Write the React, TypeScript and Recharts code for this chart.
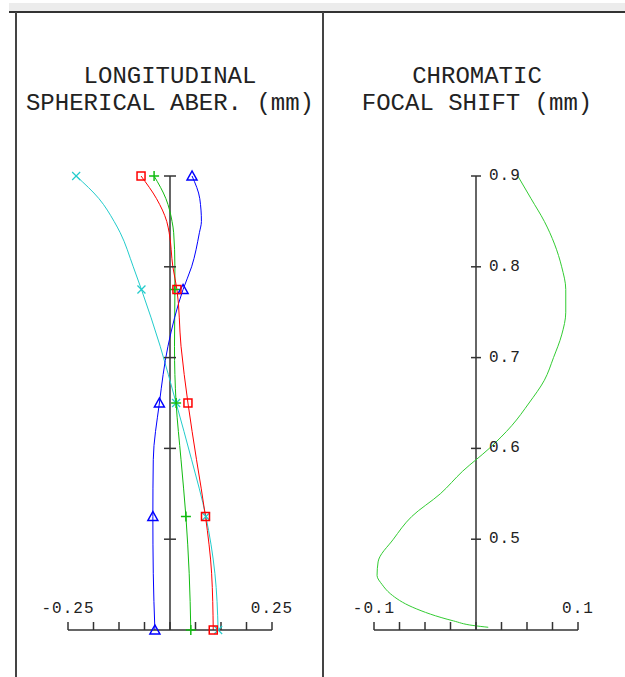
import React from 'react';
import { LineChart, Line, XAxis, YAxis, ReferenceLine, ReferenceDot } from 'recharts';

// longitudinal spherical aberration, per relative pupil height
const pupil = [0, 0.125, 0.25, 0.375, 0.5, 0.625, 0.75, 0.8, 0.875, 0.9, 0.95, 1];
const redAber = [0.106, 0.102, 0.087, 0.065, 0.044, 0.027, 0.017, 0.007, -0.002, -0.008, -0.033, -0.071];
const greenAber = [0.051, 0.047, 0.039, 0.027, 0.015, 0.011, 0.012, 0.012, 0.009, 0.005, -0.010, -0.039];
const blueAber = [-0.037, -0.041, -0.042, -0.041, -0.026, -0.005, 0.032, 0.053, 0.072, 0.077, 0.073, 0.054];
const cyanAber = [0.118, 0.110, 0.088, 0.053, 0.015, -0.024, -0.070, -0.090, -0.122, -0.137, -0.174, -0.230];
const markerPupils = [0, 0.25, 0.5, 0.75, 1];
const pupilTicks = [0.2, 0.4, 0.6, 0.8, 1];
const aberTicks = [-0.25, -0.1875, -0.125, -0.0625, 0, 0.0625, 0.125, 0.1875, 0.25];
const aberLabels = ['-0.25', '0.25'];

// chromatic focal shift, per wavelength (um)
const wavelength = [0.403, 0.405, 0.41, 0.425, 0.44, 0.45, 0.46, 0.475, 0.5, 0.525, 0.55, 0.575, 0.6, 0.625, 0.65, 0.675, 0.7, 0.725, 0.75, 0.775, 0.8, 0.825, 0.85, 0.875, 0.9];
const focalShift = [0.012, -0.003, -0.022, -0.062, -0.084, -0.092, -0.097, -0.096, -0.081, -0.063, -0.035, -0.013, 0.013, 0.035, 0.052, 0.067, 0.076, 0.084, 0.088, 0.088, 0.084, 0.077, 0.067, 0.054, 0.041];
const wlTicks = [0.5, 0.6, 0.7, 0.8, 0.9];
const shiftTicks = [-0.1, -0.075, -0.05, -0.025, 0, 0.025, 0.05, 0.075, 0.1];
const shiftLabels = ['-0.1', '0.1'];

const aberData = pupil.map((p, i) => ({
  pupil: p,
  red: redAber[i],
  green: greenAber[i],
  blue: blueAber[i],
  cyan: cyanAber[i]
}));
const chromData = wavelength.map((w, i) => ({ wl: w, shift: focalShift[i] }));

const AX = '#333';
const FONT = '"Liberation Mono", "DejaVu Sans Mono", monospace';

const marker = (kind: string, color: string) => (props: any) => {
  const { cx, cy, payload, index } = props;
  if (!markerPupils.includes(payload.pupil) || cx == null) return <g key={index} />;
  if (kind === 'square')
    return <rect key={index} x={cx - 4} y={cy - 4} width={8} height={8} fill="none" stroke={color} strokeWidth={1.5} />;
  if (kind === 'plus')
    return (
      <g key={index} stroke={color} strokeWidth={1.5}>
        <line x1={cx - 5} y1={cy} x2={cx + 5} y2={cy} />
        <line x1={cx} y1={cy - 5} x2={cx} y2={cy + 5} />
      </g>
    );
  if (kind === 'tri')
    return <polygon key={index} points={`${cx},${cy - 5} ${cx - 5},${cy + 4} ${cx + 5},${cy + 4}`} fill="none" stroke={color} strokeWidth={1.5} />;
  return (
    <g key={index} stroke={color} strokeWidth={1.2}>
      <line x1={cx - 4} y1={cy - 4} x2={cx + 4} y2={cy + 4} />
      <line x1={cx - 4} y1={cy + 4} x2={cx + 4} y2={cy - 4} />
    </g>
  );
};

const endLabel = (labels: string[]) => (props: any) => {
  const { x, y, payload } = props;
  const txt = labels.find((l) => parseFloat(l) === payload.value);
  if (!txt) return <g />;
  return (
    <text x={x} y={y} textAnchor="middle" fontFamily={FONT} fontSize={16} letterSpacing={1} fill="#222">
      {txt}
    </text>
  );
};

const Title = ({ left, lines }: { left: number; lines: string[] }) => (
  <div style={{ position: 'absolute', left: left - 160, top: 63, width: 320, textAlign: 'center', fontFamily: FONT, fontSize: 24, lineHeight: '27px', color: '#222' }}>
    {lines.map((l) => (
      <div key={l}>{l}</div>
    ))}
  </div>
);

const App = () => {
  return (
    <div style={{ position: 'absolute', left: 0, top: 0, width: 625, height: 677, background: '#fff', overflow: 'hidden' }}>
      <div style={{ position: 'absolute', left: 9, top: 3, width: 616, height: 8, background: '#ececec' }} />
      <div style={{ position: 'absolute', left: 9, top: 11, width: 616, height: 2, background: '#333' }} />
      <div style={{ position: 'absolute', left: 15, top: 12, width: 2, height: 665, background: '#444' }} />
      <div style={{ position: 'absolute', left: 322, top: 12, width: 2, height: 665, background: '#444' }} />

      <Title left={170} lines={['LONGITUDINAL', 'SPHERICAL ABER. (mm)']} />
      <Title left={477} lines={['CHROMATIC', 'FOCAL SHIFT (mm)']} />

      <div style={{ position: 'absolute', left: 0, top: 0 }}>
        <LineChart width={323} height={677} data={aberData} layout="vertical" margin={{ top: 176, bottom: 47, left: 68, right: 51 }}>
          <XAxis type="number" domain={[-0.25, 0.25]} ticks={aberTicks} interval={0} mirror tickSize={8} tickMargin={9}
            stroke={AX} strokeWidth={1.5} tick={endLabel(aberLabels)} />
          <YAxis type="number" dataKey="pupil" domain={[0, 1]} reversed hide />
          <ReferenceLine x={0} stroke={AX} strokeWidth={1.5} />
          {pupilTicks.map((p) => (
            <ReferenceDot key={p} x={0} y={p} shape={(s: any) => <line x1={s.cx - 6} y1={s.cy} x2={s.cx + 6} y2={s.cy} stroke={AX} strokeWidth={1.5} />} />
          ))}
          <Line dataKey="cyan" type="monotone" stroke="#22cccc" strokeWidth={1} dot={marker('x', '#22cccc')} activeDot={false} isAnimationActive={false} />
          <Line dataKey="green" type="monotone" stroke="#11bb11" strokeWidth={1} dot={marker('plus', '#11bb11')} activeDot={false} isAnimationActive={false} />
          <Line dataKey="blue" type="monotone" stroke="#0000ff" strokeWidth={1} dot={marker('tri', '#0000ff')} activeDot={false} isAnimationActive={false} />
          <Line dataKey="red" type="monotone" stroke="#ff0000" strokeWidth={1} dot={marker('square', '#ff0000')} activeDot={false} isAnimationActive={false} />
        </LineChart>
      </div>

      <div style={{ position: 'absolute', left: 323, top: 0 }}>
        <LineChart width={302} height={677} data={chromData} layout="vertical" margin={{ top: 176, bottom: 47, left: 51, right: 47 }}>
          <XAxis type="number" domain={[-0.1, 0.1]} ticks={shiftTicks} interval={0} mirror tickSize={8} tickMargin={9}
            stroke={AX} strokeWidth={1.5} tick={endLabel(shiftLabels)} />
          <YAxis type="number" dataKey="wl" domain={[0.4, 0.9]} reversed hide />
          <ReferenceLine x={0} stroke={AX} strokeWidth={1.5} />
          {wlTicks.map((w) => (
            <ReferenceDot key={w} x={0} y={w} shape={(s: any) => (
              <g>
                <line x1={s.cx - 5} y1={s.cy} x2={s.cx + 5} y2={s.cy} stroke={AX} strokeWidth={1.5} />
                <text x={s.cx + 13} y={s.cy} dominantBaseline="central" fontFamily={FONT} fontSize={16} letterSpacing={1} fill="#222">
                  {w.toFixed(1)}
                </text>
              </g>
            )} />
          ))}
          <Line dataKey="shift" type="monotone" stroke="#33cc33" strokeWidth={1} dot={false} activeDot={false} isAnimationActive={false} />
        </LineChart>
      </div>
    </div>
  );
};

export default App;
